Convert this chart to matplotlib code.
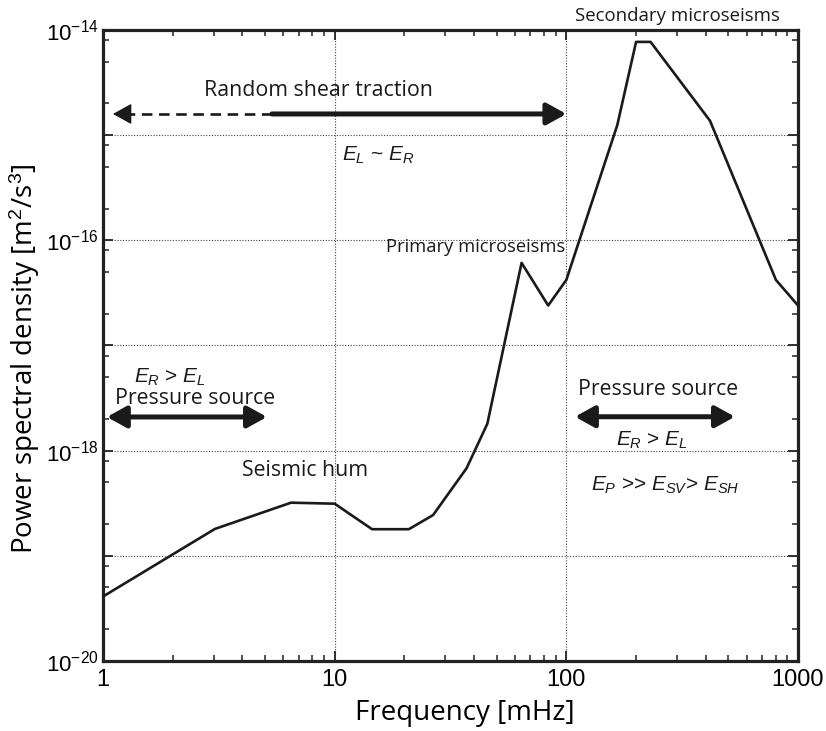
import math
import matplotlib
matplotlib.use('Agg')
import matplotlib.pyplot as plt
from matplotlib.ticker import LogLocator, FixedLocator, FuncFormatter, NullFormatter

plt.rcParams['mathtext.fontset'] = 'custom'
plt.rcParams['mathtext.rm'] = 'Liberation Sans'
plt.rcParams['mathtext.it'] = 'Liberation Sans:italic'

# spectrum (frequency in mHz, PSD in m^2/s^3)
freq = [1, 3.04, 6.48, 10, 14.5, 20.9, 26.6, 37.1, 45.6, 64.1, 83.5, 100,
        166, 200, 231, 417, 803, 1000]
psd = [4.1e-20, 1.8e-19, 3.2e-19, 3.13e-19, 1.79e-19, 1.79e-19, 2.44e-19,
       6.8e-19, 1.8e-18, 6.1e-17, 2.4e-17, 4.2e-17, 1.25e-15, 7.7e-15,
       7.7e-15, 1.37e-15, 4.2e-17, 2.4e-17]

x_ticks = [1, 10, 100, 1000]
y_decades = [1e-20, 1e-19, 1e-18, 1e-17, 1e-16, 1e-15, 1e-14]

# arrows: (x start, x end, y)
shear_dash = (5.36, 1.104, 1.59e-15)
shear_solid = (5.36, 100, 1.59e-15)
press_left = (1.04, 5.1, 2.09e-18)
press_right = (109, 534, 2.1e-18)

# labels: (text, x, y, size, family)
labels = [
    ('Random shear traction', 8.47, 2.68e-15, 15.4, 'Open Sans'),
    (r'$E_L$ ~ $E_R$', 15.4, 6.47e-16, 15, 'Liberation Sans'),
    ('Primary microseisms', 40.7, 8.65e-17, 13.2, 'Open Sans'),
    (r'$E_R$ > $E_L$', 1.95, 5.02e-18, 15, 'Liberation Sans'),
    ('Pressure source', 2.49, 3.1e-18, 15.3, 'Open Sans'),
    ('Seismic hum', 7.45, 6.41e-19, 15.3, 'Open Sans'),
    ('Pressure source', 248, 3.78e-18, 15.3, 'Open Sans'),
    (r'$E_R$ > $E_L$', 234, 1.26e-18, 15, 'Liberation Sans'),
    (r'$E_P$ >> $E_{SV}$> $E_{SH}$', 266, 4.72e-19, 15, 'Liberation Sans'),
]

fig = plt.figure(figsize=(8.26, 7.31), dpi=100)
ax = fig.add_axes([0.1247, 0.0958, 0.8414, 0.8632])

ax.plot(freq, psd, color='#1a1a1a', lw=1.9, zorder=3)
ax.set_xscale('log')
ax.set_yscale('log')
ax.set_xlim(1, 1000)
ax.set_ylim(1e-20, 1e-14)

# grid only on decades
for v in x_ticks[1:-1]:
    ax.axvline(v, color='#444444', lw=0.8, ls=(0, (1, 1.5)), zorder=1)
for v in y_decades[1:-1]:
    ax.axhline(v, color='#444444', lw=0.8, ls=(0, (1, 1.5)), zorder=1)

ax.xaxis.set_major_locator(FixedLocator(x_ticks))
ax.xaxis.set_major_formatter(FuncFormatter(lambda v, p: '%d' % v))
ax.xaxis.set_minor_locator(LogLocator(base=10, subs=range(2, 10), numticks=20))
ax.xaxis.set_minor_formatter(NullFormatter())


def ylab(v, p):
    e = int(round(math.log10(v)))
    if e % 2:
        return ''
    return r'$\mathregular{10^{%d}}$' % e


ax.yaxis.set_major_locator(FixedLocator(y_decades))
ax.yaxis.set_major_formatter(FuncFormatter(ylab))
ax.yaxis.set_minor_locator(LogLocator(base=10, subs=[2, 5, 8], numticks=20))
ax.yaxis.set_minor_formatter(NullFormatter())

ax.tick_params(which='both', direction='in', top=True, right=True, color='#222222')
ax.tick_params(which='major', length=7, width=1.3)
ax.tick_params(axis='x', which='major', pad=6, labelsize=17)
ax.tick_params(axis='y', which='major', pad=3, labelsize=16)
ax.tick_params(which='minor', length=4, width=1.1)
for lab in ax.get_xticklabels() + ax.get_yticklabels():
    lab.set_family('Liberation Sans')
for s in ax.spines.values():
    s.set_linewidth(2.3)
    s.set_color('#222222')

ax.set_xlabel('Frequency [mHz]', family='Open Sans', fontsize=20)
ax.set_ylabel(r'Power spectral density [m$^2$/s$^3$]', family='Open Sans', fontsize=20)
ax.xaxis.set_label_coords(0.52, -0.061)
ax.yaxis.set_label_coords(-0.088, 0.479)

head = 'head_length=0.9,head_width=0.5'
# dashed part of the shear arrow: line plus a solid head
ax.plot([shear_dash[0], shear_dash[1] * 1.12], [shear_dash[2]] * 2, color='#1a1a1a',
        lw=1.9, ls=(0, (4, 2.5)), solid_capstyle='butt', dash_capstyle='butt')
ax.annotate('', xy=(shear_dash[1], shear_dash[2]), xytext=(shear_dash[1] * 1.13, shear_dash[2]),
            arrowprops=dict(arrowstyle='-|>,' + head, color='#1a1a1a', lw=1,
                            shrinkA=0, shrinkB=0, mutation_scale=13))
ax.annotate('', xy=(shear_solid[1], shear_solid[2]), xytext=(shear_solid[0], shear_solid[2]),
            arrowprops=dict(arrowstyle='-|>,' + head, color='#1a1a1a',
                            lw=3.6, shrinkA=0, shrinkB=0, mutation_scale=13))
for a in (press_left, press_right):
    ax.annotate('', xy=(a[1], a[2]), xytext=(a[0], a[2]),
                arrowprops=dict(arrowstyle='<|-|>,' + head, color='#1a1a1a',
                                lw=3.6, shrinkA=0, shrinkB=0, mutation_scale=13))

for t, x, y, s, fam in labels:
    ax.text(x, y, t, ha='center', va='center', fontsize=s, family=fam, color='#1a1a1a')

ax.text(0.827, 1.022, 'Secondary microseisms', transform=ax.transAxes, ha='center',
        va='center', fontsize=13.4, family='Open Sans', color='#1a1a1a')

plt.savefig('out.png', dpi=100)
